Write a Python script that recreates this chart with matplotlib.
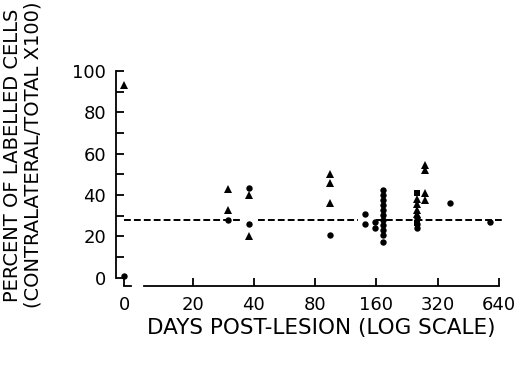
import matplotlib
matplotlib.use('Agg')
import matplotlib.pyplot as plt
from matplotlib.ticker import FixedLocator, MultipleLocator, NullFormatter

# days post-lesion (0 = day of lesion), percent labelled cells
tri_days = [0, 30, 30, 38, 38, 95, 95, 95, 254, 254, 254, 254, 278, 278, 278, 278]
tri_pct = [93, 43, 33, 40, 20, 50, 46, 36, 38, 35.5, 33, 31, 54.5, 52, 41, 37.5]

circ_days = [0, 30, 38, 38, 95, 141, 141, 158, 158,
             173, 173, 173, 173, 173, 173, 173, 173, 173, 173, 173,
             254, 254, 254, 368, 580]
circ_pct = [1, 28, 43.5, 26, 20.5, 31, 26, 27, 24,
            42.5, 40, 37.5, 35, 33, 30.5, 28, 25.5, 23, 20.5, 17.5,
            29, 26, 24, 36, 27]

sq_days = [254, 254]
sq_pct = [41, 26.5]

mean_level = 28
mean_segments = [(0, 34), (42, 130), (160, 660)]

x_ticks = [0, 20, 40, 80, 160, 320, 640]
y_ticks = [0, 20, 40, 60, 80, 100]

ZERO_POS = 9.2  # where day 0 sits on the log axis


def pos(days):
    return [ZERO_POS if d == 0 else d for d in days]


fig = plt.figure(figsize=(5.17, 3.81), dpi=100)
ax = fig.add_axes([116/517, 1-286/381, (503-116)/517, (286-71)/381])

for a, b in mean_segments:
    ax.plot(pos([a, b]), [mean_level, mean_level], color='black', lw=1.4,
            dashes=(3.5, 1.6), clip_on=False)

ax.plot(pos(tri_days), tri_pct, '^', color='black', ms=5.5, mew=0)
ax.plot(pos(circ_days), circ_pct, 'o', color='black', ms=4.6, mew=0)
ax.plot(pos(sq_days), sq_pct, 's', color='black', ms=4.3, mew=0)

ax.set_xscale('log', base=2)
ax.set_xlim(8.4, 670)
ax.set_ylim(-4, 100)

for s in ['top', 'right']:
    ax.spines[s].set_visible(False)
ax.spines['left'].set_bounds(0, 100)
ax.spines['bottom'].set_bounds(11.5, 640)
for s in ['left', 'bottom']:
    ax.spines[s].set_linewidth(1.3)
# short piece of the broken axis at day 0
ax.plot([ZERO_POS, 10.0], [-4, -4], color='black', lw=1.3, clip_on=False)

ax.xaxis.set_major_locator(FixedLocator(pos(x_ticks)))
ax.xaxis.set_minor_locator(FixedLocator([]))
ax.xaxis.set_minor_formatter(NullFormatter())
ax.set_xticklabels([str(t) for t in x_ticks])
ax.set_yticks(y_ticks)
ax.yaxis.set_minor_locator(MultipleLocator(10))

ax.tick_params(which='both', direction='in', length=6, width=1.3, labelsize=13, pad=7)

ax.set_xlabel('DAYS POST-LESION (LOG SCALE)', fontsize=15.5, labelpad=3)
ax.xaxis.label.set_x(0.53)

fig.text(13/517, 1-155/381, 'PERCENT OF LABELLED CELLS', rotation=90,
         fontsize=14, ha='center', va='center')
fig.text(33/517, 1-155/381, '(CONTRALATERAL/TOTAL X100)', rotation=90,
         fontsize=14, ha='center', va='center')

fig.savefig('out.png', dpi=100)
